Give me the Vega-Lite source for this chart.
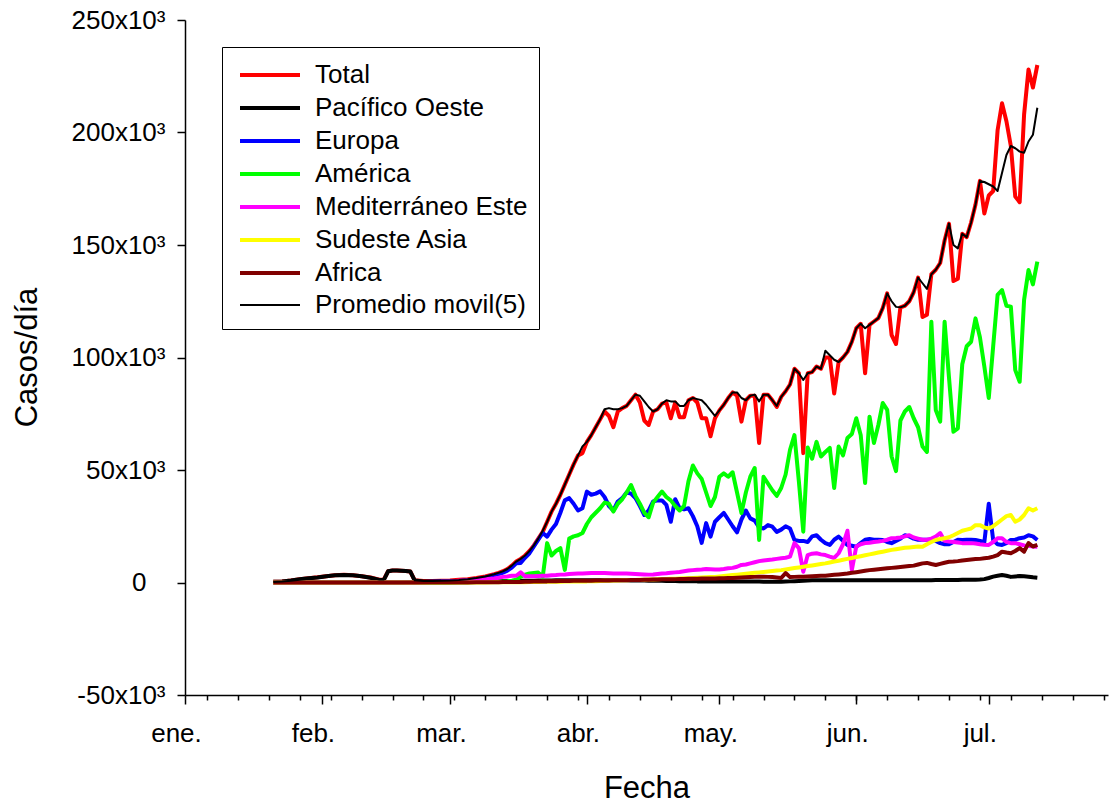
{
  "width": 923,
  "height": 675,
  "autosize": {"type": "none"},
  "padding": {"left": 185, "top": 20, "right": 3, "bottom": 109},
  "background": "white",
  "config": {"view": {"stroke": null}, "font": "Liberation Sans"},
  "data": {"values": [
    {"d":"2020-01-21","T":0.3,"PO":0.3,"EU":0,"AM":0,"ME":0,"SA":0,"AF":0,"PM":0.2},
    {"d":"2020-01-23","T":0.5,"PO":0.5,"EU":0,"AM":0,"ME":0,"SA":0,"AF":0,"PM":0.4},
    {"d":"2020-01-25","T":0.9,"PO":0.9,"EU":0,"AM":0,"ME":0,"SA":0,"AF":0,"PM":0.8},
    {"d":"2020-01-27","T":1.4,"PO":1.4,"EU":0,"AM":0,"ME":0,"SA":0,"AF":0,"PM":1.2},
    {"d":"2020-01-29","T":1.9,"PO":1.9,"EU":0,"AM":0,"ME":0,"SA":0,"AF":0,"PM":1.7},
    {"d":"2020-01-31","T":2.3,"PO":2.2,"EU":0,"AM":0,"ME":0,"SA":0,"AF":0,"PM":2.1},
    {"d":"2020-02-02","T":2.8,"PO":2.8,"EU":0,"AM":0,"ME":0,"SA":0,"AF":0,"PM":2.6},
    {"d":"2020-02-04","T":3.2,"PO":3.2,"EU":0,"AM":0,"ME":0,"SA":0,"AF":0,"PM":3.1},
    {"d":"2020-02-06","T":3.4,"PO":3.3,"EU":0,"AM":0,"ME":0,"SA":0,"AF":0,"PM":3.3},
    {"d":"2020-02-08","T":3.2,"PO":3.2,"EU":0,"AM":0,"ME":0,"SA":0,"AF":0,"PM":3.3},
    {"d":"2020-02-10","T":2.8,"PO":2.8,"EU":0,"AM":0,"ME":0,"SA":0,"AF":0,"PM":2.9},
    {"d":"2020-02-12","T":2.2,"PO":2.1,"EU":0,"AM":0,"ME":0,"SA":0,"AF":0,"PM":2.2},
    {"d":"2020-02-14","T":1.2,"PO":1.1,"EU":0,"AM":0,"ME":0,"SA":0,"AF":0,"PM":1.3},
    {"d":"2020-02-15","T":1.3,"PO":1.1,"EU":0,"AM":0,"ME":0,"SA":0,"AF":0,"PM":1.3},
    {"d":"2020-02-16","T":5,"PO":5,"EU":0,"AM":0,"ME":0,"SA":0,"AF":0,"PM":5},
    {"d":"2020-02-17","T":5.3,"PO":5.3,"EU":0,"AM":0,"ME":0,"SA":0,"AF":0,"PM":5.3},
    {"d":"2020-02-18","T":5.3,"PO":5.3,"EU":0,"AM":0,"ME":0,"SA":0,"AF":0,"PM":5.3},
    {"d":"2020-02-19","T":5.2,"PO":5.2,"EU":0,"AM":0,"ME":0,"SA":0,"AF":0,"PM":5.2},
    {"d":"2020-02-20","T":5.1,"PO":5.1,"EU":0.1,"AM":0,"ME":0,"SA":0,"AF":0,"PM":5.1},
    {"d":"2020-02-21","T":4.9,"PO":4.9,"EU":0.1,"AM":0,"ME":0,"SA":0,"AF":0,"PM":4.9},
    {"d":"2020-02-22","T":1,"PO":0.9,"EU":0.1,"AM":0,"ME":0,"SA":0,"AF":0,"PM":1},
    {"d":"2020-02-24","T":0.7,"PO":0.5,"EU":0.2,"AM":0,"ME":0.1,"SA":0,"AF":0,"PM":0.7},
    {"d":"2020-02-26","T":0.7,"PO":0.4,"EU":0.3,"AM":0,"ME":0.2,"SA":0,"AF":0,"PM":0.7},
    {"d":"2020-02-28","T":0.8,"PO":0.4,"EU":0.4,"AM":0,"ME":0.3,"SA":0,"AF":0,"PM":0.8},
    {"d":"2020-03-01","T":0.9,"PO":0.4,"EU":0.5,"AM":0,"ME":0.5,"SA":0,"AF":0,"PM":0.9},
    {"d":"2020-03-03","T":1.2,"PO":0.4,"EU":0.7,"AM":0.1,"ME":0.8,"SA":0,"AF":0,"PM":1.1},
    {"d":"2020-03-05","T":1.5,"PO":0.5,"EU":1,"AM":0.1,"ME":1,"SA":0,"AF":0,"PM":1.4},
    {"d":"2020-03-07","T":2,"PO":0.5,"EU":1.5,"AM":0.2,"ME":1.2,"SA":0,"AF":0.1,"PM":2},
    {"d":"2020-03-09","T":2.7,"PO":0.6,"EU":2.2,"AM":0.2,"ME":1.5,"SA":0,"AF":0.1,"PM":2.7},
    {"d":"2020-03-11","T":3.7,"PO":0.6,"EU":3.2,"AM":0.3,"ME":1.8,"SA":0.1,"AF":0.1,"PM":3.7},
    {"d":"2020-03-12","T":4.3,"PO":0.6,"EU":3.7,"AM":0.4,"ME":2.1,"SA":0.1,"AF":0.1,"PM":4.3},
    {"d":"2020-03-13","T":5,"PO":0.7,"EU":4.4,"AM":0.5,"ME":2.5,"SA":0.1,"AF":0.2,"PM":5},
    {"d":"2020-03-14","T":6,"PO":0.7,"EU":5.3,"AM":0.6,"ME":2.7,"SA":0.1,"AF":0.2,"PM":6},
    {"d":"2020-03-15","T":7.5,"PO":0.7,"EU":6.6,"AM":0.8,"ME":3,"SA":0.1,"AF":0.2,"PM":7.5},
    {"d":"2020-03-16","T":9.3,"PO":0.8,"EU":8.5,"AM":1.2,"ME":3,"SA":0.1,"AF":0.2,"PM":9.3},
    {"d":"2020-03-17","T":10.5,"PO":0.8,"EU":8.7,"AM":2.6,"ME":4.5,"SA":0.1,"AF":0.2,"PM":10.5},
    {"d":"2020-03-18","T":12,"PO":0.8,"EU":11,"AM":3.5,"ME":2.8,"SA":0.1,"AF":0.3,"PM":12},
    {"d":"2020-03-19","T":14,"PO":0.8,"EU":13,"AM":4,"ME":2.8,"SA":0.2,"AF":0.3,"PM":14},
    {"d":"2020-03-20","T":16.5,"PO":0.8,"EU":16,"AM":4.2,"ME":2.8,"SA":0.2,"AF":0.4,"PM":16.5},
    {"d":"2020-03-21","T":19.5,"PO":0.9,"EU":19,"AM":4.4,"ME":2.9,"SA":0.2,"AF":0.5,"PM":19.5},
    {"d":"2020-03-22","T":22.5,"PO":0.9,"EU":22,"AM":2.6,"ME":3,"SA":0.3,"AF":0.5,"PM":23},
    {"d":"2020-03-23","T":27,"PO":0.9,"EU":20.4,"AM":17.5,"ME":3,"SA":0.3,"AF":0.5,"PM":27},
    {"d":"2020-03-24","T":31.5,"PO":0.9,"EU":23.5,"AM":12,"ME":3.2,"SA":0.3,"AF":0.6,"PM":31.5},
    {"d":"2020-03-25","T":35,"PO":1,"EU":26,"AM":14,"ME":3.3,"SA":0.3,"AF":0.6,"PM":35},
    {"d":"2020-03-26","T":39,"PO":1,"EU":31,"AM":15.3,"ME":3.5,"SA":0.3,"AF":0.7,"PM":39},
    {"d":"2020-03-27","T":43.5,"PO":1,"EU":36.5,"AM":5.6,"ME":3.6,"SA":0.4,"AF":0.7,"PM":43.5},
    {"d":"2020-03-28","T":48,"PO":1,"EU":37.5,"AM":19.5,"ME":3.8,"SA":0.4,"AF":0.7,"PM":48},
    {"d":"2020-03-29","T":52.5,"PO":1,"EU":35,"AM":20.5,"ME":3.9,"SA":0.4,"AF":0.8,"PM":52.5},
    {"d":"2020-03-30","T":56.5,"PO":1,"EU":32,"AM":21,"ME":4,"SA":0.5,"AF":0.8,"PM":56.5},
    {"d":"2020-03-31","T":57.5,"PO":1,"EU":33,"AM":22,"ME":4,"SA":0.5,"AF":0.8,"PM":60.5},
    {"d":"2020-04-01","T":62.5,"PO":1,"EU":40.4,"AM":26,"ME":4.1,"SA":0.5,"AF":0.8,"PM":62.5},
    {"d":"2020-04-02","T":65.5,"PO":1,"EU":39,"AM":29,"ME":4.2,"SA":0.6,"AF":0.8,"PM":65.5},
    {"d":"2020-04-03","T":69,"PO":1,"EU":39.5,"AM":31,"ME":4.2,"SA":0.6,"AF":0.9,"PM":69},
    {"d":"2020-04-04","T":72.5,"PO":1,"EU":40.5,"AM":33,"ME":4.2,"SA":0.7,"AF":0.9,"PM":72.5},
    {"d":"2020-04-05","T":76,"PO":1,"EU":38,"AM":35.5,"ME":4.2,"SA":0.8,"AF":0.9,"PM":77},
    {"d":"2020-04-06","T":74,"PO":1,"EU":34,"AM":35,"ME":4.1,"SA":0.8,"AF":0.9,"PM":77.5},
    {"d":"2020-04-07","T":69,"PO":1,"EU":32,"AM":31.5,"ME":4,"SA":0.9,"AF":1,"PM":77},
    {"d":"2020-04-08","T":76,"PO":1,"EU":36,"AM":35,"ME":4,"SA":0.9,"AF":1,"PM":77},
    {"d":"2020-04-09","T":77.5,"PO":1,"EU":37.5,"AM":37,"ME":4,"SA":1,"AF":1,"PM":77.5},
    {"d":"2020-04-10","T":78.5,"PO":1,"EU":40,"AM":40,"ME":4,"SA":1,"AF":1,"PM":78.5},
    {"d":"2020-04-11","T":81,"PO":0.9,"EU":39.5,"AM":43.3,"ME":3.9,"SA":1.1,"AF":1.1,"PM":81},
    {"d":"2020-04-12","T":83.5,"PO":0.9,"EU":37.5,"AM":38.5,"ME":3.8,"SA":1.1,"AF":1.1,"PM":83.5},
    {"d":"2020-04-13","T":80,"PO":0.9,"EU":34,"AM":35,"ME":3.7,"SA":1.2,"AF":1.1,"PM":83},
    {"d":"2020-04-14","T":72,"PO":0.9,"EU":30,"AM":31,"ME":3.6,"SA":1.2,"AF":1.2,"PM":80.5},
    {"d":"2020-04-15","T":70,"PO":0.8,"EU":32,"AM":29,"ME":3.5,"SA":1.3,"AF":1.2,"PM":78},
    {"d":"2020-04-16","T":76,"PO":0.8,"EU":36,"AM":35.5,"ME":3.6,"SA":1.3,"AF":1.3,"PM":76},
    {"d":"2020-04-17","T":77,"PO":0.8,"EU":36.5,"AM":38,"ME":3.8,"SA":1.4,"AF":1.3,"PM":77},
    {"d":"2020-04-18","T":79.5,"PO":0.8,"EU":36.5,"AM":40.4,"ME":4,"SA":1.5,"AF":1.4,"PM":79.5},
    {"d":"2020-04-19","T":80,"PO":0.7,"EU":34.5,"AM":38,"ME":4.1,"SA":1.6,"AF":1.4,"PM":81},
    {"d":"2020-04-20","T":73,"PO":0.7,"EU":27,"AM":36.5,"ME":4.3,"SA":1.7,"AF":1.5,"PM":80.5},
    {"d":"2020-04-21","T":80,"PO":0.7,"EU":37,"AM":34,"ME":4.5,"SA":1.7,"AF":1.5,"PM":80.5},
    {"d":"2020-04-22","T":73.5,"PO":0.6,"EU":33,"AM":32,"ME":4.7,"SA":1.8,"AF":1.6,"PM":78.5},
    {"d":"2020-04-23","T":73.5,"PO":0.6,"EU":32.5,"AM":34,"ME":5,"SA":1.9,"AF":1.6,"PM":78.5},
    {"d":"2020-04-24","T":81,"PO":0.6,"EU":33,"AM":45,"ME":5.3,"SA":1.9,"AF":1.7,"PM":81},
    {"d":"2020-04-25","T":82,"PO":0.6,"EU":29.5,"AM":52,"ME":5.5,"SA":2,"AF":1.7,"PM":82},
    {"d":"2020-04-26","T":80,"PO":0.5,"EU":25,"AM":48.5,"ME":5.7,"SA":2.1,"AF":1.7,"PM":81.5},
    {"d":"2020-04-27","T":73,"PO":0.5,"EU":17.6,"AM":46,"ME":5.8,"SA":2.2,"AF":1.8,"PM":81},
    {"d":"2020-04-28","T":73,"PO":0.5,"EU":26.4,"AM":40,"ME":6,"SA":2.3,"AF":1.8,"PM":79},
    {"d":"2020-04-29","T":65,"PO":0.5,"EU":20.4,"AM":34,"ME":5.9,"SA":2.4,"AF":1.8,"PM":76.5},
    {"d":"2020-04-30","T":73,"PO":0.5,"EU":27,"AM":38,"ME":5.8,"SA":2.5,"AF":1.8,"PM":74},
    {"d":"2020-05-01","T":76.5,"PO":0.5,"EU":29,"AM":47,"ME":5.8,"SA":2.7,"AF":1.9,"PM":76.5},
    {"d":"2020-05-02","T":79,"PO":0.4,"EU":30.9,"AM":48.5,"ME":6,"SA":2.9,"AF":1.9,"PM":79},
    {"d":"2020-05-03","T":82,"PO":0.4,"EU":28,"AM":47,"ME":6.3,"SA":3.1,"AF":2,"PM":82},
    {"d":"2020-05-04","T":84.5,"PO":0.4,"EU":25,"AM":49,"ME":6.5,"SA":3.3,"AF":2,"PM":84.5},
    {"d":"2020-05-05","T":83,"PO":0.4,"EU":22.3,"AM":40,"ME":7,"SA":3.5,"AF":2.1,"PM":84.5},
    {"d":"2020-05-06","T":71.5,"PO":0.4,"EU":28,"AM":30.9,"ME":7.8,"SA":3.7,"AF":2.2,"PM":82},
    {"d":"2020-05-07","T":81,"PO":0.4,"EU":32,"AM":40,"ME":8,"SA":3.9,"AF":2.3,"PM":81},
    {"d":"2020-05-08","T":83,"PO":0.4,"EU":28.5,"AM":47,"ME":8.5,"SA":4.1,"AF":2.4,"PM":83},
    {"d":"2020-05-09","T":83,"PO":0.4,"EU":27.5,"AM":50.9,"ME":9,"SA":4.3,"AF":2.5,"PM":83.5},
    {"d":"2020-05-10","T":62,"PO":0.4,"EU":24.5,"AM":18.9,"ME":9.5,"SA":4.5,"AF":2.6,"PM":80.5},
    {"d":"2020-05-11","T":83.5,"PO":0.3,"EU":24,"AM":47,"ME":9.8,"SA":4.7,"AF":2.6,"PM":83.5},
    {"d":"2020-05-12","T":83.5,"PO":0.3,"EU":25.5,"AM":44,"ME":10,"SA":4.9,"AF":2.5,"PM":83.5},
    {"d":"2020-05-13","T":81,"PO":0.3,"EU":24.8,"AM":41,"ME":10.2,"SA":5.1,"AF":2.4,"PM":81},
    {"d":"2020-05-14","T":78,"PO":0.3,"EU":22.5,"AM":38.5,"ME":10.5,"SA":5.3,"AF":2.2,"PM":78.5},
    {"d":"2020-05-15","T":82.5,"PO":0.3,"EU":23.5,"AM":42,"ME":10.8,"SA":5.5,"AF":2,"PM":82.5},
    {"d":"2020-05-16","T":85,"PO":0.4,"EU":25,"AM":48,"ME":11,"SA":5.8,"AF":4.2,"PM":85},
    {"d":"2020-05-17","T":88,"PO":0.5,"EU":24,"AM":59,"ME":11.5,"SA":6.1,"AF":2.4,"PM":88},
    {"d":"2020-05-18","T":95,"PO":0.6,"EU":18.9,"AM":65.5,"ME":17.5,"SA":6.4,"AF":2.5,"PM":95},
    {"d":"2020-05-19","T":93,"PO":0.7,"EU":18.5,"AM":45,"ME":15.3,"SA":6.7,"AF":2.6,"PM":93},
    {"d":"2020-05-20","T":57.5,"PO":0.8,"EU":18.5,"AM":22.6,"ME":4.8,"SA":7,"AF":2.6,"PM":90},
    {"d":"2020-05-21","T":93,"PO":0.9,"EU":18,"AM":60,"ME":12.2,"SA":7.3,"AF":2.7,"PM":93},
    {"d":"2020-05-22","T":93.5,"PO":1,"EU":20.5,"AM":55,"ME":12.8,"SA":7.6,"AF":2.8,"PM":93.5},
    {"d":"2020-05-23","T":96,"PO":1,"EU":21,"AM":62.5,"ME":13,"SA":7.9,"AF":2.9,"PM":96},
    {"d":"2020-05-24","T":95,"PO":1,"EU":19,"AM":56,"ME":12.5,"SA":8.2,"AF":3,"PM":95},
    {"d":"2020-05-25","T":100,"PO":1,"EU":17.5,"AM":58,"ME":12.2,"SA":8.5,"AF":3,"PM":103},
    {"d":"2020-05-26","T":100,"PO":1,"EU":16.7,"AM":59.8,"ME":11.5,"SA":8.9,"AF":3.2,"PM":101},
    {"d":"2020-05-27","T":84,"PO":1,"EU":19,"AM":42,"ME":10.9,"SA":9.3,"AF":3.4,"PM":99},
    {"d":"2020-05-28","T":98,"PO":1,"EU":20.4,"AM":60.4,"ME":13,"SA":9.7,"AF":3.6,"PM":98},
    {"d":"2020-05-29","T":100,"PO":1,"EU":18.5,"AM":56.5,"ME":17,"SA":10.1,"AF":3.8,"PM":100},
    {"d":"2020-05-30","T":102.5,"PO":1,"EU":16.7,"AM":64.2,"ME":23,"SA":10.5,"AF":4,"PM":102.5},
    {"d":"2020-05-31","T":107,"PO":1,"EU":16.3,"AM":66,"ME":5.6,"SA":10.9,"AF":4.3,"PM":107},
    {"d":"2020-06-01","T":113,"PO":1,"EU":15.9,"AM":73,"ME":16,"SA":11.3,"AF":4.6,"PM":113},
    {"d":"2020-06-02","T":115,"PO":1,"EU":17.5,"AM":65.6,"ME":17,"SA":11.7,"AF":4.9,"PM":115},
    {"d":"2020-06-03","T":93,"PO":1,"EU":19,"AM":44.2,"ME":17.5,"SA":12.1,"AF":5.2,"PM":113},
    {"d":"2020-06-04","T":114.5,"PO":1,"EU":19.3,"AM":73.7,"ME":17.7,"SA":12.5,"AF":5.5,"PM":114.5},
    {"d":"2020-06-05","T":116,"PO":1,"EU":19,"AM":62,"ME":18,"SA":12.9,"AF":5.7,"PM":116},
    {"d":"2020-06-06","T":117.5,"PO":1,"EU":19,"AM":70,"ME":18.2,"SA":13.3,"AF":5.9,"PM":117.5},
    {"d":"2020-06-07","T":122,"PO":1,"EU":18.9,"AM":79.8,"ME":18.5,"SA":13.7,"AF":6.1,"PM":122},
    {"d":"2020-06-08","T":128.5,"PO":1,"EU":18,"AM":76.7,"ME":19,"SA":14.1,"AF":6.3,"PM":128.5},
    {"d":"2020-06-09","T":110,"PO":1,"EU":17.5,"AM":56,"ME":19.7,"SA":14.5,"AF":6.5,"PM":125},
    {"d":"2020-06-10","T":106,"PO":1,"EU":18.5,"AM":49.5,"ME":19.8,"SA":14.8,"AF":6.7,"PM":122.5},
    {"d":"2020-06-11","T":122.3,"PO":1,"EU":19.5,"AM":72,"ME":20,"SA":15.1,"AF":6.9,"PM":122.3},
    {"d":"2020-06-12","T":123,"PO":1,"EU":21,"AM":76,"ME":20.5,"SA":15.4,"AF":7.1,"PM":123},
    {"d":"2020-06-13","T":125,"PO":1,"EU":20.5,"AM":78,"ME":21,"SA":15.6,"AF":7.3,"PM":125},
    {"d":"2020-06-14","T":129,"PO":1,"EU":19.5,"AM":73,"ME":20,"SA":15.8,"AF":7.5,"PM":129},
    {"d":"2020-06-15","T":135.5,"PO":1,"EU":19,"AM":69,"ME":19.5,"SA":16,"AF":8,"PM":135.5},
    {"d":"2020-06-16","T":118,"PO":1,"EU":19,"AM":60.4,"ME":19,"SA":15.9,"AF":8.5,"PM":133},
    {"d":"2020-06-17","T":119,"PO":1,"EU":19,"AM":58,"ME":19,"SA":17,"AF":8.7,"PM":130.5},
    {"d":"2020-06-18","T":137,"PO":1,"EU":19,"AM":115.9,"ME":19.5,"SA":18,"AF":8.2,"PM":137},
    {"d":"2020-06-19","T":139,"PO":1.1,"EU":18.5,"AM":76.7,"ME":20.4,"SA":18.9,"AF":7.8,"PM":139},
    {"d":"2020-06-20","T":142,"PO":1.1,"EU":17.5,"AM":71.5,"ME":22,"SA":19.3,"AF":8.3,"PM":142},
    {"d":"2020-06-21","T":152,"PO":1.1,"EU":17,"AM":115.9,"ME":18.5,"SA":19.7,"AF":8.8,"PM":152},
    {"d":"2020-06-22","T":159.5,"PO":1.1,"EU":17,"AM":91,"ME":18.2,"SA":20.1,"AF":9.2,"PM":159.5},
    {"d":"2020-06-23","T":134,"PO":1.1,"EU":18,"AM":67,"ME":18,"SA":21,"AF":9.3,"PM":150},
    {"d":"2020-06-24","T":135,"PO":1.1,"EU":19,"AM":68.5,"ME":17.8,"SA":22,"AF":9.5,"PM":148.5},
    {"d":"2020-06-25","T":155,"PO":1.2,"EU":18.9,"AM":97,"ME":17.5,"SA":23,"AF":9.8,"PM":155},
    {"d":"2020-06-26","T":153.5,"PO":1.2,"EU":19,"AM":105,"ME":17.5,"SA":23.5,"AF":10,"PM":153.5},
    {"d":"2020-06-27","T":160,"PO":1.2,"EU":19,"AM":107,"ME":17.5,"SA":24,"AF":10.2,"PM":160},
    {"d":"2020-06-28","T":168,"PO":1.2,"EU":18.9,"AM":117.4,"ME":17.3,"SA":25.5,"AF":10.4,"PM":168},
    {"d":"2020-06-29","T":178.5,"PO":1.3,"EU":18.5,"AM":109,"ME":17,"SA":25.5,"AF":10.5,"PM":178.5},
    {"d":"2020-06-30","T":164,"PO":1.5,"EU":18,"AM":96,"ME":16.8,"SA":24.5,"AF":10.8,"PM":178},
    {"d":"2020-07-01","T":172,"PO":2,"EU":35,"AM":82,"ME":16.7,"SA":24,"AF":11,"PM":177},
    {"d":"2020-07-02","T":174,"PO":2.6,"EU":18.9,"AM":105,"ME":18,"SA":25,"AF":11.5,"PM":176},
    {"d":"2020-07-03","T":201,"PO":3,"EU":17,"AM":127.8,"ME":19.7,"SA":26.5,"AF":12.2,"PM":174},
    {"d":"2020-07-04","T":213,"PO":3.3,"EU":16.7,"AM":130,"ME":19.7,"SA":28,"AF":13.7,"PM":182},
    {"d":"2020-07-05","T":205,"PO":3,"EU":17.5,"AM":123,"ME":18,"SA":29.5,"AF":13.3,"PM":190},
    {"d":"2020-07-06","T":194,"PO":2.5,"EU":18.9,"AM":122.6,"ME":17.5,"SA":30,"AF":13,"PM":194},
    {"d":"2020-07-07","T":171.5,"PO":2.7,"EU":19,"AM":94.4,"ME":17.5,"SA":27,"AF":14,"PM":193},
    {"d":"2020-07-08","T":169,"PO":2.9,"EU":19.7,"AM":89.2,"ME":17,"SA":28,"AF":15.3,"PM":191.5},
    {"d":"2020-07-09","T":208,"PO":2.8,"EU":20,"AM":125.6,"ME":16.5,"SA":30,"AF":13.7,"PM":191},
    {"d":"2020-07-10","T":228,"PO":2.6,"EU":21,"AM":138.9,"ME":16.3,"SA":33,"AF":17.5,"PM":196},
    {"d":"2020-07-11","T":220,"PO":2.3,"EU":20.5,"AM":132.5,"ME":16,"SA":32,"AF":16,"PM":199},
    {"d":"2020-07-12","T":230,"PO":2.1,"EU":18.9,"AM":142.6,"ME":15.9,"SA":33,"AF":16.7,"PM":211}
  ]},
  "transform": [
    {"fold": ["T", "PO", "EU", "AM", "ME", "SA", "AF", "PM"], "as": ["serie", "casos"]}
  ],
  "layer": [
    {
      "mark": {"type": "line", "strokeJoin": "round", "clip": true},
      "encoding": {
        "x": {
          "field": "d", "type": "temporal",
          "scale": {"type": "utc", "domain": [{"year": 2020, "month": 1, "date": 1, "utc": true}, {"year": 2020, "month": 7, "date": 28, "utc": true}]},
          "axis": {
            "orient": "bottom",
            "values": [
              {"year": 2020, "month": 1, "date": 1, "utc": true},
              {"year": 2020, "month": 2, "date": 1, "utc": true},
              {"year": 2020, "month": 3, "date": 1, "utc": true},
              {"year": 2020, "month": 4, "date": 1, "utc": true},
              {"year": 2020, "month": 5, "date": 1, "utc": true},
              {"year": 2020, "month": 6, "date": 1, "utc": true},
              {"year": 2020, "month": 7, "date": 1, "utc": true}
            ],
            "labelExpr": "['ene.','feb.','mar.','abr.','may.','jun.','jul.','ago.'][utcmonth(datum.value)]",
            "labelFontSize": 26, "labelColor": "black", "labelPadding": 16, "labelOffset": -9,
            "labelFlush": false, "labelOverlap": false, "labelBound": false,
            "tickSize": 9, "tickWidth": 1.5, "tickColor": "black",
            "domainWidth": 1.5, "domainColor": "black", "grid": false,
            "title": "Fecha", "titleFontSize": 31, "titleFontWeight": "normal", "titleColor": "black",
            "titleY": 93, "titleBaseline": "middle"
          }
        },
        "y": {
          "field": "casos", "type": "quantitative",
          "scale": {"domain": [-50, 250], "nice": false, "zero": false},
          "axis": {
            "values": [-50, 0, 50, 100, 150, 200, 250],
            "labelExpr": "datum.value == 0 ? '0\u2800' : datum.value + 'x10³'",
            "labelFontSize": 26, "labelColor": "black", "labelPadding": 12,
            "tickSize": 8, "tickWidth": 1.5, "tickColor": "black",
            "domainWidth": 1.5, "domainColor": "black", "grid": false,
            "title": "Casos/día", "titleFontSize": 31, "titleFontWeight": "normal", "titleColor": "black",
            "titleX": -158, "titleY": 337, "titleAngle": -90, "titleAlign": "center", "titleBaseline": "middle"
          }
        },
        "color": {
          "field": "serie", "type": "nominal",
          "scale": {
            "domain": ["T", "PO", "EU", "AM", "ME", "SA", "AF", "PM"],
            "range": ["#ff0000", "#000000", "#0000ff", "#00ff00", "#ff00ff", "#ffff00", "#800000", "#000000"]
          },
          "legend": {
            "orient": "none", "legendX": 37, "legendY": 27, "title": null,
            "symbolType": "M-2,0H2", "symbolSize": 900, "symbolOffset": 20,
            "labelFontSize": 26, "labelColor": "black", "labelOffset": 28, "labelLimit": 400,
            "rowPadding": 3, "padding": 11, "strokeColor": "black", "fillColor": "white",
            "labelExpr": "datum.label == 'T' ? 'Total' : datum.label == 'PO' ? 'Pacífico Oeste' : datum.label == 'EU' ? 'Europa' : datum.label == 'AM' ? 'América' : datum.label == 'ME' ? 'Mediterráneo Este' : datum.label == 'SA' ? 'Sudeste Asia' : datum.label == 'AF' ? 'Africa' : 'Promedio movil(5)'"
          }
        },
        "strokeWidth": {
          "field": "serie", "type": "nominal",
          "scale": {
            "type": "ordinal",
            "domain": ["T", "PO", "EU", "AM", "ME", "SA", "AF", "PM"],
            "range": [4, 4, 4, 4, 4, 4, 4, 2]
          },
          "legend": {
            "orient": "none", "legendX": 37, "legendY": 27, "title": null,
            "symbolType": "M-2,0H2", "symbolSize": 900, "symbolOffset": 20,
            "labelFontSize": 26, "labelColor": "black", "labelOffset": 28, "labelLimit": 400,
            "rowPadding": 3, "padding": 11, "strokeColor": "black", "fillColor": "white",
            "labelExpr": "datum.label == 'T' ? 'Total' : datum.label == 'PO' ? 'Pacífico Oeste' : datum.label == 'EU' ? 'Europa' : datum.label == 'AM' ? 'América' : datum.label == 'ME' ? 'Mediterráneo Este' : datum.label == 'SA' ? 'Sudeste Asia' : datum.label == 'AF' ? 'Africa' : 'Promedio movil(5)'"
          }
        }
      }
    },
    {
      "mark": {"type": "rule", "strokeOpacity": 0},
      "encoding": {
        "x": {
          "field": "d", "type": "temporal",
          "scale": {"type": "utc", "domain": [{"year": 2020, "month": 1, "date": 1, "utc": true}, {"year": 2020, "month": 7, "date": 28, "utc": true}]},
          "axis": {
            "orient": "bottom",
            "values": [
              {"year": 2020, "month": 1, "date": 6, "utc": true},
              {"year": 2020, "month": 1, "date": 13, "utc": true},
              {"year": 2020, "month": 1, "date": 20, "utc": true},
              {"year": 2020, "month": 1, "date": 27, "utc": true},
              {"year": 2020, "month": 2, "date": 3, "utc": true},
              {"year": 2020, "month": 2, "date": 10, "utc": true},
              {"year": 2020, "month": 2, "date": 17, "utc": true},
              {"year": 2020, "month": 2, "date": 24, "utc": true},
              {"year": 2020, "month": 3, "date": 2, "utc": true},
              {"year": 2020, "month": 3, "date": 9, "utc": true},
              {"year": 2020, "month": 3, "date": 16, "utc": true},
              {"year": 2020, "month": 3, "date": 23, "utc": true},
              {"year": 2020, "month": 3, "date": 30, "utc": true},
              {"year": 2020, "month": 4, "date": 6, "utc": true},
              {"year": 2020, "month": 4, "date": 13, "utc": true},
              {"year": 2020, "month": 4, "date": 20, "utc": true},
              {"year": 2020, "month": 4, "date": 27, "utc": true},
              {"year": 2020, "month": 5, "date": 4, "utc": true},
              {"year": 2020, "month": 5, "date": 11, "utc": true},
              {"year": 2020, "month": 5, "date": 18, "utc": true},
              {"year": 2020, "month": 5, "date": 25, "utc": true},
              {"year": 2020, "month": 6, "date": 1, "utc": true},
              {"year": 2020, "month": 6, "date": 8, "utc": true},
              {"year": 2020, "month": 6, "date": 15, "utc": true},
              {"year": 2020, "month": 6, "date": 22, "utc": true},
              {"year": 2020, "month": 6, "date": 29, "utc": true},
              {"year": 2020, "month": 7, "date": 6, "utc": true},
              {"year": 2020, "month": 7, "date": 13, "utc": true},
              {"year": 2020, "month": 7, "date": 20, "utc": true},
              {"year": 2020, "month": 7, "date": 27, "utc": true}
            ],
            "labels": false, "domain": false, "grid": false, "title": null,
            "tickSize": 5, "tickWidth": 1.5, "tickColor": "black"
          }
        }
      }
    }
  ],
  "resolve": {"axis": {"x": "independent"}}
}
